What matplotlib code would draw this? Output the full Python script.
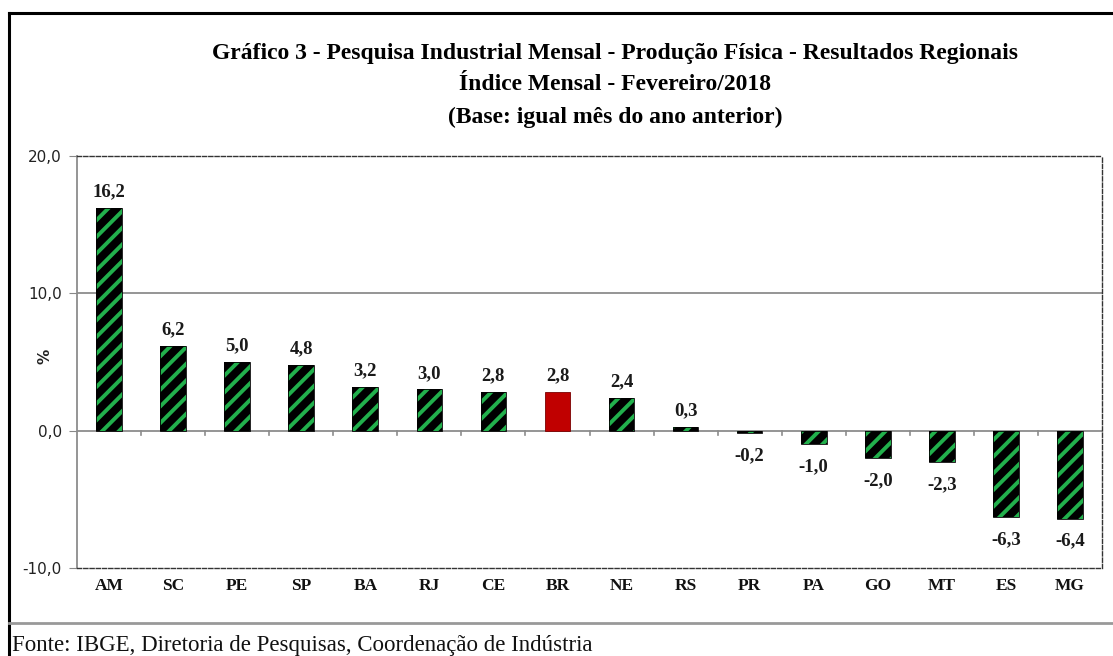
import matplotlib.pyplot as plt
from matplotlib.lines import Line2D

regions = ["AM", "SC", "PE", "SP", "BA", "RJ", "CE", "BR", "NE", "RS",
           "PR", "PA", "GO", "MT", "ES", "MG"]
values = [16.2, 6.2, 5.0, 4.8, 3.2, 3.0, 2.8, 2.8, 2.4, 0.3,
          -0.2, -1.0, -2.0, -2.3, -6.3, -6.4]
yticks = [-10, 0, 10, 20]

green = "#22b04c"
red = "#c00000"
serif = "Liberation Serif"

plt.rcParams["hatch.linewidth"] = 2.8

W, H = 1113, 656
fig = plt.figure(figsize=(W / 100, H / 100), dpi=100)
ax = fig.add_axes([77 / W, 1 - 568 / H, (1102 - 77) / W, (568 - 156) / H])

for i, (reg, v) in enumerate(zip(regions, values)):
    if reg == "BR":
        ax.bar(i, v, width=0.4, color=red, edgecolor="#7a0000", linewidth=0.6, zorder=3)
    else:
        ax.bar(i, v, width=0.4, color="black", edgecolor=green, hatch="//",
               linewidth=0, zorder=3)
        ax.bar(i, v, width=0.4, fill=False, edgecolor="black", linewidth=0.6, zorder=4)
    txt = f"{v:.1f}".replace(".", ",")
    off = 0.55 if v >= 0 else -1.0
    ax.text(i, v + off, txt, ha="center", va="bottom" if v >= 0 else "top",
            fontsize=13.5, fontweight="bold", family=serif, color="#1a1a1a")

ax.set_xlim(-0.5, len(regions) - 0.5)
ax.set_ylim(-10, 20)
ax.set_yticks(yticks)
ax.set_yticklabels([f"{t:.1f}".replace(".", ",") for t in yticks],
                   fontsize=11, color="#222222")
ax.tick_params(axis="y", direction="out", length=6, color="#888888", pad=5)
ax.set_xticks([])

# gridlines at 10 and 0
for gy in [10, 0]:
    ax.axhline(gy, color="#8c8c8c", linewidth=1.3, zorder=1)
# category boundary ticks below the zero line
for b in range(1, len(regions)):
    ax.plot([b - 0.5, b - 0.5], [0, -0.35], color="#8c8c8c", linewidth=1.2,
            zorder=1, clip_on=False)

ax.spines["left"].set_color("#8c8c8c")
ax.spines["left"].set_linewidth(1.3)
for s in ["top", "bottom", "right"]:
    ax.spines[s].set_color("#333333")
    ax.spines[s].set_linestyle((0, (3, 1.5)))
    ax.spines[s].set_linewidth(1.0)

for i, reg in enumerate(regions):
    ax.text(i, -11.3, reg, ha="center", va="center", fontsize=12.5,
            fontweight="bold", family=serif, color="#111111", clip_on=False)

fig.text(45 / W, 1 - 356 / H, "%", rotation=90, ha="center", va="center",
         fontsize=11, fontweight="bold", color="#222222")

fig.text(615 / W, 1 - 53 / H,
         "Gráfico 3 - Pesquisa Industrial Mensal - Produção Física - Resultados Regionais",
         ha="center", va="center", fontsize=17, fontweight="bold", family=serif)
fig.text(615 / W, 1 - 85 / H, "Índice Mensal - Fevereiro/2018",
         ha="center", va="center", fontsize=17, fontweight="bold", family=serif)
fig.text(615 / W, 1 - 117 / H, "(Base: igual mês do ano anterior)",
         ha="center", va="center", fontsize=17, fontweight="bold", family=serif)

fig.text(12 / W, 1 - 645 / H,
         "Fonte: IBGE, Diretoria de Pesquisas, Coordenação de Indústria",
         ha="left", va="center", fontsize=16.5, family=serif, color="#111111")

# outer frame and separator
fig.add_artist(Line2D([9 / W, 9 / W], [0, 1 - 13 / H], color="black", linewidth=2.2))
fig.add_artist(Line2D([9 / W, 1], [1 - 13 / H, 1 - 13 / H], color="black", linewidth=2.2))
fig.add_artist(Line2D([9 / W, 1], [1 - 623 / H, 1 - 623 / H], color="#999999", linewidth=2))

fig.savefig("out.png", dpi=100)
